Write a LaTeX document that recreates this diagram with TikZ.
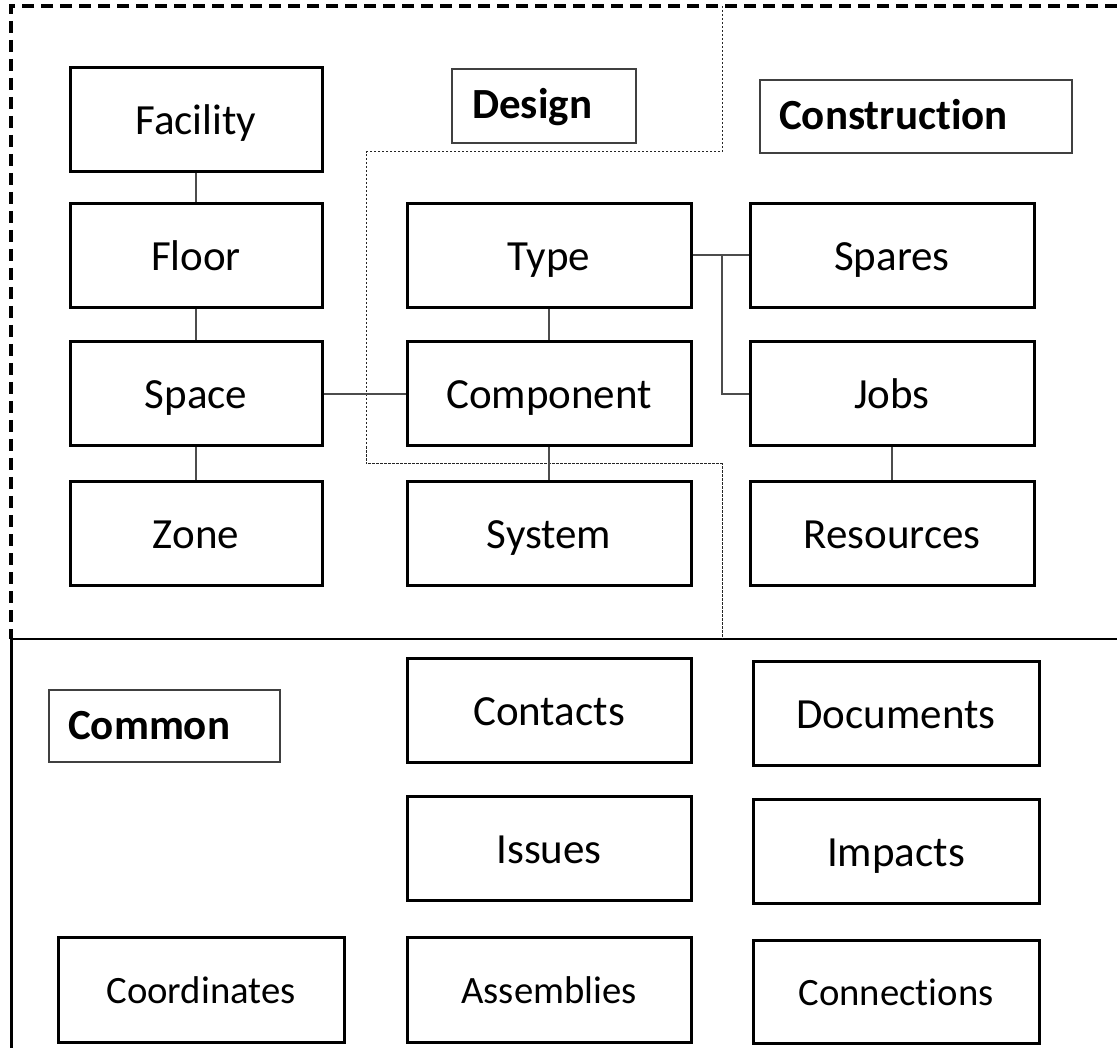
\documentclass[tikz,border=0pt]{standalone}
\usepackage{fontspec}
\setmainfont[Ligatures=NoCommon]{Carlito}
\begin{document}
\begin{tikzpicture}[x=1pt,y=-1pt,
  ent/.style={draw=black, line width=3pt, rectangle, inner sep=0pt,
     minimum width=284pt, minimum height=104pt,
     text height=30pt, text depth=0pt,
     font=\fontsize{43}{50}\selectfont},
  entsmall/.style={ent, text height=27pt, text depth=0pt, font=\fontsize{38.7}{46}\selectfont},
  lbl/.style={draw=black!75, line width=1.5pt, rectangle, inner sep=0pt},
  lbltext/.style={anchor=base west, inner sep=0pt, font=\fontsize{43}{50}\selectfont\bfseries},
  link/.style={draw=black!70, line width=1.4pt},
  outer/.style={line width=3.2pt, dash pattern=on 12pt off 7pt},
  phase/.style={line width=1pt, draw=black!85, dash pattern=on 2.5pt off 1.5pt}]
\useasboundingbox (0,0) rectangle (1117,1048);

% outer frame
\draw[outer] (1117,6) -- (11,6) -- (11,639);
\draw[line width=3pt] (11,639) -- (11,1048);
\draw[line width=2.8pt] (11,639) -- (1117,639);

% design region (dotted)
\draw[phase] (722,6) -- (722,152) -- (366,152) -- (366,464) -- (722,464) -- (722,639);

% phase labels
\draw[lbl] (452,69) rectangle (636,143);
\node[lbltext] (design) at (472,119) {Design};
\draw[lbl] (760,80) rectangle (1072,153);
\node[lbltext] (construction) at (779,130) {Construction};
\draw[lbl] (49,690) rectangle (280,762);
\node[lbltext] (common) at (68,739) {Common};

% left column
\node[ent, minimum width=252pt] (facility) at (196,120) {Facility};
\node[ent, minimum width=252pt] (floor) at (196,256) {Floor};
\node[ent, minimum width=252pt] (space) at (196,394) {Space};
\node[ent, minimum width=252pt] (zone) at (196,533.5) {Zone};

% middle column
\node[ent] (type) at (549,256) {Type};
\node[ent] (component) at (549,394) {Component};
\node[ent] (system) at (549,533.5) {System};

% right column
\node[ent] (spares) at (892,256) {Spares};
\node[ent] (jobs) at (892,394) {Jobs};
\node[ent] (resources) at (892,533.5) {Resources};

% common
\node[ent] (contacts) at (549,710) {Contacts};
\node[ent, minimum width=286pt] (documents) at (896,713) {Documents};
\node[ent] (issues) at (549,848.5) {Issues};
\node[ent, minimum width=286pt] (impacts) at (896,851.5) {Impacts};
\node[entsmall, minimum width=286pt, minimum height=105pt] (coordinates) at (201,989.5) {Coordinates};
\node[entsmall, minimum height=105pt] (assemblies) at (549,989.5) {Assemblies};
\node[entsmall, minimum width=286pt, minimum height=103pt] (connections) at (896,991.5) {Connections};

% connectors
\draw[link] (facility) -- (floor);
\draw[link] (floor) -- (space);
\draw[link] (space) -- (zone);
\draw[link] (space) -- (component);
\draw[link] (type) -- (component);
\draw[link] (component) -- (system);
\draw[link] (jobs) -- (resources);
\coordinate (tj) at (722,255);
\draw[link] (type.east |- tj) -- (spares.west |- tj);
\draw[link] (tj) -- (722,394) -- (jobs.west);
\end{tikzpicture}
\end{document}
